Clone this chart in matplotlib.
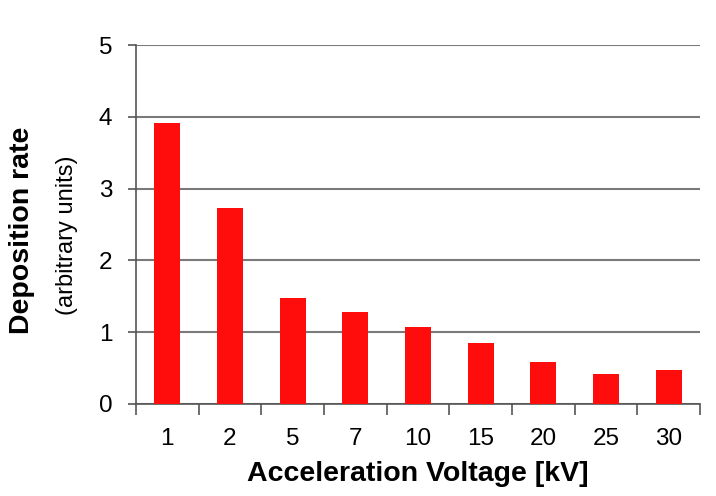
import matplotlib
matplotlib.use("Agg")
import matplotlib.pyplot as plt
import numpy as np

plt.rcParams['font.family'] = ['Liberation Sans', 'DejaVu Sans']

voltages = ["1", "2", "5", "7", "10", "15", "20", "25", "30"]
deposition_rate = [3.91, 2.73, 1.47, 1.28, 1.07, 0.85, 0.59, 0.42, 0.47]

fig = plt.figure(figsize=(7.16, 4.96), dpi=100)
ax = fig.add_axes([136 / 716, 92 / 496, 564 / 716, 359 / 496])

x = np.arange(len(voltages))
ax.bar(x, deposition_rate, width=0.42, color="#ff0d0d", zorder=3)

ax.set_xlim(-0.5, len(voltages) - 0.5)
ax.set_ylim(0, 5)
ax.set_yticks(range(0, 6))
ax.yaxis.grid(True, color="#7a7a7a", linewidth=1.5, zorder=0)

# category labels centred, tick marks between categories
ax.set_xticks(x)
ax.set_xticklabels(voltages, fontsize=17.5)
ax.set_xticks(np.arange(-0.5, len(voltages)), minor=True)
ax.tick_params(axis="x", which="major", length=0, pad=17)
ax.tick_params(axis="x", which="minor", length=8, width=1.2, color="#555555", direction="out")
ax.tick_params(axis="y", length=6, width=1.2, color="#555555", labelsize=17.5, pad=11)

for side in ("top", "right"):
    ax.spines[side].set_visible(False)
for side in ("left", "bottom"):
    ax.spines[side].set_color("#555555")
    ax.spines[side].set_linewidth(1.2)

ax.set_xlabel("Acceleration Voltage [kV]", fontsize=20.5, fontweight="bold", labelpad=8)
fig.text(22 / 716, 1 - 230 / 496, "Deposition rate", rotation=90, fontsize=20.5,
         fontweight="bold", ha="center", va="center")
fig.text(67 / 716, 1 - 235 / 496, "(arbitrary units)", rotation=90, fontsize=17,
         ha="center", va="center")

fig.savefig("out.png", dpi=100)
